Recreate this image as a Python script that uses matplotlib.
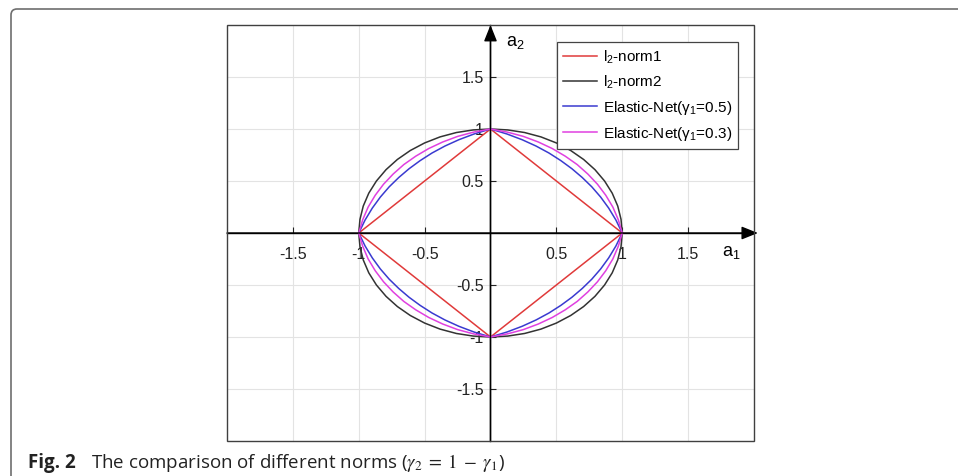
#!/usr/bin/env python3
"""Norm comparison: l1 diamond, l2 circle and two elastic-net contours."""

import matplotlib
matplotlib.use("Agg")
import matplotlib.pyplot as plt
import numpy as np
from matplotlib.patches import FancyBboxPatch, Rectangle
from matplotlib.transforms import IdentityTransform

# first-quadrant points of each contour (a1 -> a2)
norm1_a1 = [1.0, 0.0]
norm1_a2 = [0.0, 1.0]
norm2_a1 = [1.000, 0.991, 0.966, 0.924, 0.866, 0.793, 0.707, 0.609, 0.500, 0.383, 0.259, 0.131, 0.000]
norm2_a2 = [0.000, 0.131, 0.259, 0.383, 0.500, 0.609, 0.707, 0.793, 0.866, 0.924, 0.966, 0.991, 1.000]
en05_a1 = [1.000, 0.952, 0.897, 0.836, 0.769, 0.696, 0.618, 0.534, 0.444, 0.346, 0.240, 0.125, 0.000]
en05_a2 = [0.000, 0.125, 0.240, 0.346, 0.444, 0.534, 0.618, 0.696, 0.769, 0.836, 0.897, 0.952, 1.000]
en03_a1 = [1.000, 0.970, 0.929, 0.875, 0.812, 0.739, 0.658, 0.567, 0.469, 0.363, 0.249, 0.128, 0.000]
en03_a2 = [0.000, 0.128, 0.249, 0.363, 0.469, 0.567, 0.658, 0.739, 0.812, 0.875, 0.929, 0.970, 1.000]

series_labels = ["l$_2$-norm1", "l$_2$-norm2", "Elastic-Net(γ$_1$=0.5)", "Elastic-Net(γ$_1$=0.3)"]
series_colors = ["#e03a3a", "#333333", "#3a3ad0", "#e040e0"]

tick_values = [-1.5, -1, -0.5, 0.5, 1, 1.5]
tick_labels = ["-1.5", "-1", "-0.5", "0.5", "1", "1.5"]
grid_values = [-1.5, -1, -0.5, 0, 0.5, 1, 1.5]

caption_bold = "Fig. 2"
caption_text = r"The comparison of different norms ($\gamma_2\;=\;1\;-\;\gamma_1$)"


def mirror(q1, q2):
    # reflect a first-quadrant arc into a closed curve
    q1 = np.asarray(q1)
    q2 = np.asarray(q2)
    x = np.concatenate([q1, -q1[::-1], -q1, q1[::-1]])
    y = np.concatenate([q2, q2[::-1], -q2, -q2[::-1]])
    return x, y


plt.rcParams["font.family"] = ["Liberation Sans", "DejaVu Sans"]
plt.rcParams["axes.unicode_minus"] = False
plt.rcParams["mathtext.fontset"] = "custom"
plt.rcParams["mathtext.rm"] = "Liberation Sans"
plt.rcParams["mathtext.it"] = "Liberation Sans:italic"
plt.rcParams["mathtext.bf"] = "Liberation Sans:bold"

fig = plt.figure(figsize=(9.58, 4.76), dpi=100)
ax = fig.add_axes([0.237, 0.0735, 0.550, 0.874])
ax.set_xlim(-2, 2)
ax.set_ylim(-2, 2)

for v in grid_values:
    ax.axvline(v, color="#e3e3e3", lw=0.8, zorder=0)
    ax.axhline(v, color="#e3e3e3", lw=0.8, zorder=0)

curves = [(norm1_a1, norm1_a2), (norm2_a1, norm2_a2), (en05_a1, en05_a2), (en03_a1, en03_a2)]
for (q1, q2), label, color in zip(curves, series_labels, series_colors):
    x, y = mirror(q1, q2)
    ax.plot(x, y, color=color, lw=1.1, label=label, zorder=3)

# axes through the origin
for side in ("top", "right"):
    ax.spines[side].set_visible(False)
ax.spines["left"].set_position("zero")
ax.spines["bottom"].set_position("zero")
ax.spines["left"].set_linewidth(1.0)
ax.spines["bottom"].set_linewidth(1.0)
ax.add_patch(Rectangle((0, 0), 1, 1, transform=ax.transAxes, fill=False,
                       ec="#404040", lw=1.0, clip_on=False, zorder=5))

ax.set_xticks(tick_values, tick_labels)
ax.set_yticks(tick_values, tick_labels)
ax.tick_params(axis="both", direction="in", length=4, width=0.8, labelsize=11.5, colors="#222222")
ax.tick_params(axis="x", pad=10)
ax.tick_params(axis="y", pad=5)

arrow = dict(arrowstyle="-|>,head_length=1.0,head_width=0.4", color="black", lw=1.0, shrinkA=0, shrinkB=0)
ax.annotate("", xy=(2.03, 0), xytext=(-2, 0), arrowprops=arrow, annotation_clip=False)
ax.annotate("", xy=(0, 2.0), xytext=(0, -2), arrowprops=arrow, annotation_clip=False)
ax.text(1.76, -0.19, "a$_1$", fontsize=13, va="center", ha="left")
ax.text(0.12, 1.83, "a$_2$", fontsize=13, va="center", ha="left")

leg = ax.legend(loc="upper right", bbox_to_anchor=(0.970, 0.959), fontsize=11,
                frameon=True, fancybox=False, edgecolor="#444444", framealpha=1,
                handlelength=2.2, handletextpad=0.4, labelspacing=0.52,
                borderpad=0.4, borderaxespad=0)
leg.get_frame().set_linewidth(0.9)

# outer frame with rounded top-left corner
frame = FancyBboxPatch((11, -40), 1100, 467 + 40, boxstyle="round,pad=0,rounding_size=6",
                       transform=IdentityTransform(), fill=False, ec="#6e6e6e", lw=1.2)
fig.patches.append(frame)

fig.text(28 / 958, 8 / 476, caption_bold, fontsize=13.5, fontweight="bold",
         family=["Open Sans", "DejaVu Sans"], va="baseline", ha="left", color="#222222")
fig.text(91 / 958, 8 / 476, caption_text, fontsize=13.5, family=["Open Sans", "DejaVu Sans"],
         math_fontfamily="stix", va="baseline", ha="left", color="#222222")

fig.savefig("out.png", dpi=100)
